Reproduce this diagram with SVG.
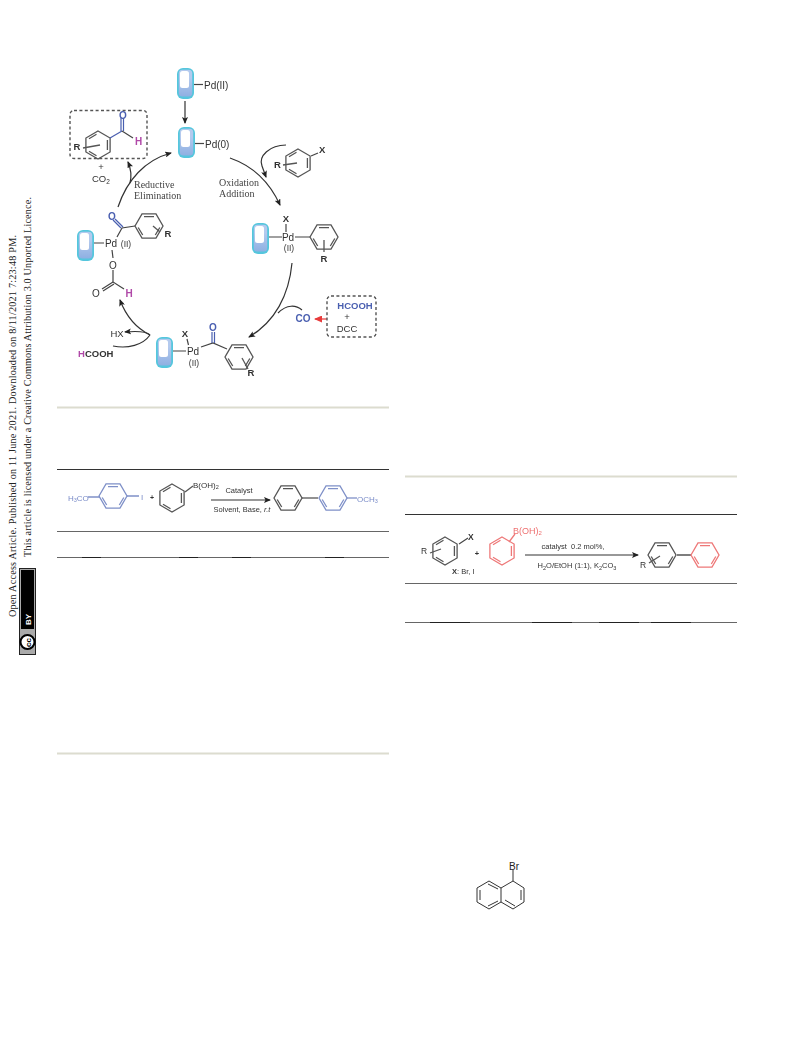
<svg xmlns="http://www.w3.org/2000/svg" width="793" height="1039" viewBox="0 0 793 1039">
<style>
text{font-family:"Liberation Sans",Arial,sans-serif;fill:#333}
.s{font-size:9.5px}
.pd{font-size:10px}
.b{font-weight:bold}
.c{text-anchor:middle}
.serif{font-family:"Liberation Serif","Times New Roman",serif;font-size:10px;fill:#444}
.side{font-family:"Liberation Serif","Times New Roman",serif;font-size:10.2px;fill:#222}
.blue{fill:#4a5fb0}
.mag{fill:#b04aa8}
.red{fill:#ee7070}
.pale{fill:#7a8cc8}
.bond{stroke:#444;stroke-width:1.2;fill:none}
.bb{stroke:#4a5fb0;stroke-width:1.2;fill:none}
.ring{stroke:#555;stroke-width:1.3;fill:none}
.ringb{stroke:#7f90c8;stroke-width:1.3;fill:none}
.ringr{stroke:#ee7878;stroke-width:1.3;fill:none}
.arc{stroke:#333;stroke-width:1.2;fill:none}
.dash{stroke:#555;stroke-width:1.4;stroke-dasharray:3 2.4;fill:none}
</style>
<defs>
<filter id="soft" x="-5%" y="-5%" width="110%" height="110%"><feGaussianBlur stdDeviation="0.4"/></filter>
<path id="rf" d="M-14 0L-7-12.1H7L14 0L7 12.1H-7ZM-5-9.4H5M10.800 1.500L6.300 9M-10.800 1.500L-6.300 9"/>
<path id="rp" d="M0-14L12.100-7V7L0 14L-12.100 7V-7ZM9.400-5V5M-1.500 10.800L-9 6.300M-1.500-10.800L-9-6.300"/>
<linearGradient id="pg" x1="0" y1="0" x2="0" y2="1"><stop offset="0.3" stop-color="#b4caee"/><stop offset="1" stop-color="#8fb0e2"/></linearGradient>
<g id="pill"><rect x="0" y="0" width="17" height="31" rx="6" fill="#55c6dd"/><rect x="1.800" y="1.800" width="13.400" height="26.600" rx="3.500" fill="url(#pg)"/><rect x="3" y="3" width="9" height="17" rx="2.500" fill="#fff"/></g>
<marker id="ah" markerWidth="7" markerHeight="6" refX="6" refY="3" orient="auto" markerUnits="userSpaceOnUse"><path d="M0 0L7 3L0 6L1.500 3Z" fill="#222"/></marker>
<marker id="ahr" markerWidth="8" markerHeight="7" refX="7" refY="3.500" orient="auto" markerUnits="userSpaceOnUse"><path d="M0 0L8 3.500L0 7Z" fill="#e83a3a"/></marker>
</defs>

<g id="sidebar">
<text class="side" transform="translate(16,617) rotate(-90)" textLength="382" lengthAdjust="spacing">Open Access Article. Published on 11 June 2021. Downloaded on 8/11/2021 7:23:48 PM.</text>
<text class="side" transform="translate(31,557) rotate(-90)" textLength="360" lengthAdjust="spacing">This article is licensed under a Creative Commons Attribution 3.0 Unported Licence.</text>
<g id="cc-badge">
<rect x="19.500" y="568.500" width="16" height="86" fill="#aaa" stroke="#222"/>
<rect x="21" y="570" width="13" height="59" fill="#000"/>
<text transform="translate(31,625) rotate(-90)" font-size="8" font-weight="bold" style="fill:#fff">BY</text>
<circle cx="27.500" cy="642" r="7" fill="#fff" stroke="#000" stroke-width="2"/>
<text transform="translate(30.500,647) rotate(-90)" font-size="8" font-weight="bold" style="fill:#000">cc</text>
</g>
</g>

<g id="rules">
<path d="M57 407.500H389M57 753.500H389M405 476.500H737" stroke="#dcdccf" stroke-width="2" fill="none"/>
<path d="M57 469.500H389M405 514.500H737" stroke="#333" stroke-width="1" fill="none"/>
<path d="M57 531.500H389M57 557.500H389M405 583.500H737M405 622.500H737" stroke="#666" stroke-width="1" fill="none"/>
<path d="M82 557.500H101M179 557.500H198M232 557.500H251M325 557.500H344M430 622.500H470M532 622.500H572M599 622.500H639M651 622.500H691" stroke="#222" stroke-width="1" fill="none"/>
</g>

<g filter="url(#soft)">
<g id="connectors">
<path class="arc" d="M185 101V123" marker-end="url(#ah)"/>
<path class="arc" d="M118 207C127 180 145 160 171 153" marker-end="url(#ah)"/>
<path class="arc" d="M130 183C132 175 131 169 128 162" marker-end="url(#ah)"/>
<path class="arc" d="M230 158C253 166 270 183 280 205" marker-end="url(#ah)"/>
<path class="arc" d="M286 145C270 145 258 156 262 166L266 177" marker-end="url(#ah)"/>
<path class="arc" d="M292 263C289 295 275 322 249 337" marker-end="url(#ah)"/>
<path class="arc" d="M302 310C296 305 287 304 278 313"/>
<path d="M327 319H315" stroke="#e83a3a" stroke-width="1.200" fill="none" marker-end="url(#ahr)"/>
<path class="arc" d="M150 335C136 328 126 316 120 300" marker-end="url(#ah)"/>
<path class="arc" d="M150 335C146 331 136 331 125 332" marker-end="url(#ah)"/>
<path class="arc" d="M150 335C143 345 128 349 113 346"/>
<path class="arc" d="M211 500H270" marker-end="url(#ah)"/>
<path class="arc" d="M525 555H638" marker-end="url(#ah)"/>
</g>

<g id="cat-pdii">
<use href="#pill" x="177" y="68"/>
<path class="bond" d="M194 84.500H203"/>
<text class="pd" x="204" y="88.500">Pd(II)</text>
</g>

<g id="cat-pd0">
<use href="#pill" x="178" y="127"/>
<path class="bond" d="M195 143.500H204"/>
<text class="pd" x="205" y="147.500">Pd(0)</text>
</g>

<g id="aldehyde-box">
<rect class="dash" x="70" y="110.500" width="77" height="48" rx="4"/>
<use href="#rp" x="98" y="145" class="ring"/>
<path class="ring" d="M83 148L100 145"/>
<path class="bb" d="M110 138L122 131M121 131V118M123.500 131V118"/>
<path class="bond" d="M122 131L133 138"/>
<text class="s b" x="73.500" y="149.500">R</text>
<text class="b blue c" x="123" y="119" font-size="10">O</text>
<text class="b mag" x="135" y="145" font-size="10">H</text>
<text class="s c" x="101" y="170">+</text>
<text class="s" x="92" y="182">CO<tspan font-size="6.500" dy="2">2</tspan></text>
</g>

<g id="label-reductive">
<text class="serif" x="134" y="188">Reductive</text>
<text class="serif" x="134" y="199">Elimination</text>
</g>

<g id="label-oxidation">
<text class="serif" x="219" y="186">Oxidation</text>
<text class="serif" x="219" y="197">Addition</text>
</g>

<g id="aryl-halide">
<use href="#rp" x="298" y="163" class="ring"/>
<path class="ring" d="M283 165L297 163"/>
<path class="bond" d="M311 156L318 153"/>
<text class="s b" x="274" y="168">R</text>
<text class="s b" x="319" y="153">X</text>
</g>

<g id="pd-aryl">
<use href="#pill" x="252" y="223"/>
<path class="bond" d="M269 237H282M286 224V232M295 237H310"/>
<use href="#rf" x="324" y="237" class="ring"/>
<path class="ring" d="M324 240V252"/>
<text class="s b c" x="286" y="222">X</text>
<text class="pd c" x="288" y="240.500">Pd</text>
<text class="c" x="289" y="251" font-size="8.500">(II)</text>
<text class="s b c" x="324" y="262">R</text>
</g>

<g id="co-source">
<text class="b blue c" x="303" y="322" font-size="10">CO</text>
<rect class="dash" x="327" y="296" width="49" height="41" rx="4"/>
<text class="b blue c" x="355" y="308.500" font-size="9.500">HCOOH</text>
<text class="s c" x="347" y="320">+</text>
<text class="s c" x="347" y="332">DCC</text>
</g>

<g id="pd-acyl">
<use href="#pill" x="156" y="337"/>
<path class="bond" d="M173 351H186M187 339L188.500 345M201 347L213 343L227 349"/>
<path class="bb" d="M212 343V332M214.500 343V332"/>
<use href="#rf" x="239" y="357" class="ring"/>
<path class="ring" d="M242 358L248 369"/>
<text class="s b c" x="185" y="336.500">X</text>
<text class="pd c" x="193" y="354.500">Pd</text>
<text class="c" x="194" y="366" font-size="8.500">(II)</text>
<text class="b blue c" x="213" y="331" font-size="10">O</text>
<text class="s b c" x="251" y="376">R</text>
</g>

<g id="hx-hcooh">
<text class="s c" x="117" y="336.500">HX</text>
<text class="b" x="78" y="356.500" font-size="9.500"><tspan class="mag">H</tspan>COOH</text>
</g>

<g id="pd-formate">
<use href="#pill" x="77" y="230"/>
<path class="bond" d="M94 243H104M117 237L122 228L135 226M112 250L113 258M113 270V282L124 289"/>
<path class="bb" d="M121 228L113 220M123 227L115 219"/>
<path class="bond" d="M113 282L102 289M114 284L103 291"/>
<use href="#rf" x="149" y="226" class="ring"/>
<path class="ring" d="M153 226L160 232"/>
<text class="pd c" x="111" y="246.500">Pd</text>
<text class="c" x="126" y="246.500" font-size="8.500">(II)</text>
<text class="b blue c" x="112" y="219.500" font-size="10">O</text>
<text class="s b c" x="168" y="237">R</text>
<text class="c" x="113" y="268.500" font-size="10">O</text>
<text class="c" x="96" y="296.500" font-size="10">O</text>
<text class="b mag c" x="129" y="296.500" font-size="10">H</text>
</g>

<g id="scheme-1">
<text class="pale" x="68" y="500.500" font-size="8">H<tspan font-size="5.500" dy="1.500">3</tspan><tspan dy="-1.500">CO</tspan></text>
<path class="ringb" d="M88 497H100M127 496H139"/>
<use href="#rf" x="113" y="496" class="ringb"/>
<text class="pale" x="141" y="499.500" font-size="8">I</text>
<text class="b c" x="152" y="500" font-size="7">+</text>
<use href="#rp" x="172" y="498" class="ring"/>
<path class="ring" d="M185 492L193 486"/>
<text x="193" y="487.500" font-size="8">B(OH)<tspan font-size="5.500" dy="1.500">2</tspan></text>
<text class="c" x="239" y="493" font-size="7.500">Catalyst</text>
<text class="c" x="242" y="511.500" font-size="7.500">Solvent, Base, <tspan font-style="italic">r.t</tspan></text>
<use href="#rf" x="288" y="498" class="ring"/>
<path class="ring" d="M302 498H318"/>
<use href="#rf" x="333" y="498" class="ringb"/>
<path class="ringb" d="M347 498H357"/>
<text class="pale" x="357" y="501.500" font-size="8">OCH<tspan font-size="5.500" dy="1.500">3</tspan></text>
</g>

<g id="scheme-2">
<use href="#rp" x="445" y="551" class="ring"/>
<path class="ring" d="M430 553L441 549"/>
<path class="bond" d="M459 544L468 538"/>
<text x="421" y="554" font-size="8.500">R</text>
<text class="b" x="468" y="540" font-size="8.500">X</text>
<text x="452" y="574" font-size="7.500"><tspan class="b">X</tspan>: Br, I</text>
<text class="b c" x="477" y="556" font-size="7.500">+</text>
<use href="#rp" x="502" y="551" class="ringr"/>
<path class="ringr" d="M509 542L515 534"/>
<text class="red" x="513" y="533.500" font-size="9">B(OH)<tspan font-size="6" dy="1.500">2</tspan></text>
<text class="c" x="573" y="549" font-size="7.500" xml:space="preserve">catalyst  0.2 mol%,</text>
<text class="c" x="577" y="568" font-size="7.500">H<tspan font-size="5.500" dy="1.500">2</tspan><tspan dy="-1.500">O/EtOH (1:1), K</tspan><tspan font-size="5.500" dy="1.500">2</tspan><tspan dy="-1.500">CO</tspan><tspan font-size="5.500" dy="1.500">3</tspan></text>
<use href="#rf" x="662" y="555" class="ring"/>
<path class="ring" d="M677 555H691M649 563L660 556"/>
<use href="#rf" x="705" y="555" class="ringr"/>
<text x="640" y="568" font-size="8.500">R</text>
</g>
</g>

<g id="bromonaphthalene">
<path d="M513 881L524 888V902L513 909L501 902V888ZM501 888L489 881L477 888V902L489 909L501 902M513 870V881M521 890V900M515 906L505 900M480 890V900M488 884L498 889M488 906L498 901" stroke="#333" stroke-width="1" fill="none"/>
<text x="509" y="870" font-size="10" style="fill:#222">Br</text>
</g>
</svg>
